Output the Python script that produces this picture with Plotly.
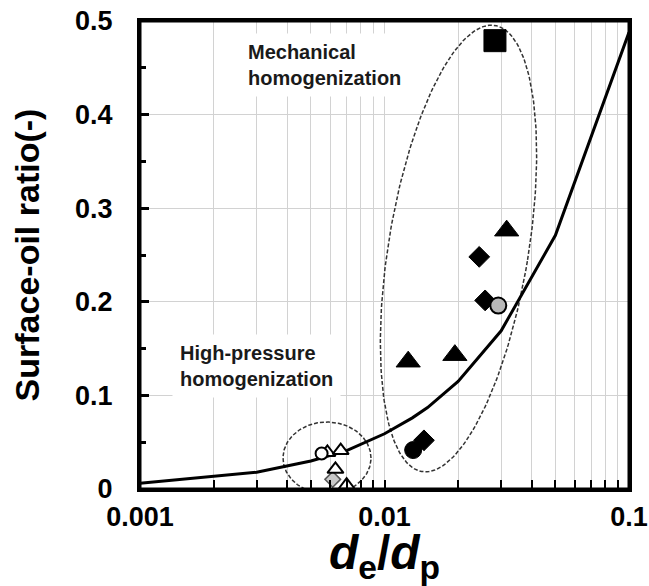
import numpy as np
import plotly.graph_objects as go

# ---------------- data ----------------
curve_x = [0.001, 0.003, 0.005, 0.007, 0.01, 0.013, 0.015, 0.02, 0.03, 0.05, 0.1]
curve_y = [0.006, 0.018, 0.030, 0.041, 0.059, 0.076, 0.087, 0.115, 0.169, 0.271, 0.488]

# mechanical homogenization
sq_x = [0.0283]
sq_y = [0.479]
tri_x = [0.0316, 0.0125, 0.0194]
tri_y = [0.276, 0.136, 0.143]
dia_x = [0.0244, 0.0258, 0.0145]
dia_y = [0.248, 0.2015, 0.052]
circ_x = [0.0131]
circ_y = [0.0416]
hcirc_x = [0.0292]
hcirc_y = [0.196]

# high-pressure homogenization
ocirc_x = [0.00553]
ocirc_y = [0.038]
otri_x = [0.00584, 0.00662, 0.0063, 0.0070]
otri_y = [0.039, 0.041, 0.021, 0.004]
hdia_x = [0.00614]
hdia_y = [0.0103]

x_tickvals = [0.001, 0.01, 0.1]
x_ticktext = ["0.001", "0.01", "0.1"]
y_tickvals = [0, 0.1, 0.2, 0.3, 0.4, 0.5]
y_ticktext = ["0", "0.1", "0.2", "0.3", "0.4", "0.5"]

# ---------------- layout geometry ----------------
W, H = 649, 586
ML, MR, MT, MB = 140, 20, 21, 97
PW, PH = W - ML - MR, H - MT - MB
XLOG0, XLOG1 = -3, -1
Y0, Y1 = 0, 0.5


def ellipse(cx, cy, a, b, tilt_deg, n=240):
    """Ellipse defined in plot-area pixels (u right, v up) -> data coords."""
    t = np.linspace(0, 2 * np.pi, n)
    th = np.radians(tilt_deg)
    u = cx + b * np.cos(t) * np.cos(th) + a * np.sin(t) * np.sin(th)
    v = cy - b * np.cos(t) * np.sin(th) + a * np.sin(t) * np.cos(th)
    x = 10 ** (XLOG0 + (XLOG1 - XLOG0) * u / PW)
    y = Y0 + (Y1 - Y0) * v / PH
    return x, y


fig = go.Figure()

# gray dashed ellipses
ex, ey = ellipse(318.5, 240.5, 226, 70, 9.3)
fig.add_trace(go.Scatter(x=ex, y=ey, mode="lines", hoverinfo="skip",
                         line=dict(color="#333333", width=1.5, dash="4px,2px")))
ex2, ey2 = ellipse(187, 31, 36, 44, 0)
fig.add_trace(go.Scatter(x=ex2, y=ey2, mode="lines", hoverinfo="skip",
                         line=dict(color="#333333", width=1.5, dash="4px,2px")))

# model curve
fig.add_trace(go.Scatter(x=curve_x, y=curve_y, mode="lines",
                         line=dict(color="black", width=3)))

blk = dict(color="black", width=1)
opn = dict(color="black", width=2)
fig.add_trace(go.Scatter(x=sq_x, y=sq_y, mode="markers",
                         marker=dict(symbol="square", size=22, color="black", line=blk)))
fig.add_trace(go.Scatter(x=tri_x, y=tri_y, mode="markers",
                         marker=dict(symbol="triangle-up", size=21, color="black", line=blk)))
fig.add_trace(go.Scatter(x=dia_x, y=dia_y, mode="markers",
                         marker=dict(symbol="diamond", size=16, color="black", line=blk)))
fig.add_trace(go.Scatter(x=circ_x, y=circ_y, mode="markers",
                         marker=dict(symbol="circle", size=17, color="black", line=blk)))
fig.add_trace(go.Scatter(x=hcirc_x, y=hcirc_y, mode="markers",
                         marker=dict(symbol="circle", size=16, color="#b8b8b8", line=opn)))

fig.add_trace(go.Scatter(x=hdia_x, y=hdia_y, mode="markers",
                         marker=dict(symbol="diamond", size=12, color="#c8c8c8", line=dict(color="#555555", width=1.5))))
fig.add_trace(go.Scatter(x=otri_x, y=otri_y, mode="markers",
                         marker=dict(symbol="triangle-up", size=14, color="white", line=opn)))
fig.add_trace(go.Scatter(x=ocirc_x, y=ocirc_y, mode="markers",
                         marker=dict(symbol="circle", size=12, color="white", line=opn)))

FONT = "Liberation Sans, Arial, sans-serif"
minor_x = [k * 10 ** d for d in (-3, -2) for k in range(2, 10)]

fig.update_layout(
    width=W, height=H,
    margin=dict(l=ML, r=MR, t=MT, b=MB, pad=0, autoexpand=False),
    paper_bgcolor="white", plot_bgcolor="white",
    showlegend=False,
    font=dict(family=FONT, color="black"),
    xaxis=dict(
        type="log", range=[XLOG0, XLOG1], automargin=False,
        tickvals=x_tickvals, ticktext=x_ticktext,
        ticks="inside", ticklen=9, tickwidth=2, tickcolor="black",
        tickfont=dict(size=27, family=FONT, weight="bold"),
        ticklabelstandoff=2, ticklabeloverflow="allow",
        showgrid=True, gridcolor="#d2d2d2", gridwidth=1,
        minor=dict(tickvals=minor_x, ticks="inside", ticklen=9, tickwidth=2,
                   tickcolor="black", showgrid=True, gridcolor="#d2d2d2", gridwidth=1),
        showline=True, linecolor="black", linewidth=3, mirror=True,
        zeroline=False,
        title=dict(text="<b><i>d</i><sub>e</sub>/<i>d</i><sub>p</sub></b>",
                   font=dict(size=48, family=FONT), standoff=0),
    ),
    yaxis=dict(
        range=[Y0, Y1], automargin=False,
        tickvals=y_tickvals, ticktext=y_ticktext,
        ticks="inside", ticklen=9, tickwidth=3, tickcolor="black",
        tickfont=dict(size=27, family=FONT, weight="bold"),
        ticklabelstandoff=19, ticklabeloverflow="allow",
        showgrid=True, gridcolor="#d2d2d2", gridwidth=1,
        minor=dict(dtick=0.05, ticks="inside", ticklen=6, tickwidth=3,
                   tickcolor="black", showgrid=False),
        showline=True, linecolor="black", linewidth=3, mirror=True,
        zeroline=False,
        title=dict(text="<b>Surface-oil ratio(-)</b>",
                   font=dict(size=34, family=FONT), standoff=26),
    ),
    shapes=[
        # plot frame
        dict(type="rect", xref="paper", yref="paper", x0=0, x1=1, y0=0, y1=1,
             line=dict(color="black", width=3), fillcolor="rgba(0,0,0,0)", layer="above"),
    ],
    annotations=[
        dict(text="<b>Mechanical<br>homogenization</b>", xref="paper", yref="paper",
             x=0.205, y=0.906, xanchor="left", yanchor="middle", align="left",
             showarrow=False, bgcolor="white", borderpad=7,
             font=dict(size=20, family=FONT, color="#1a1a1a")),
        dict(text="<b>High-pressure<br>homogenization</b>", xref="paper", yref="paper",
             x=0.065, y=0.262, xanchor="left", yanchor="middle", align="left",
             showarrow=False, bgcolor="white", borderpad=7,
             font=dict(size=20, family=FONT, color="#1a1a1a")),
    ],
)

# remove the default 8px page margin so the figure fills the window exactly
fig.write_html("out.html",
               config={"displayModeBar": False},
               post_script="document.body.style.margin='0';document.body.style.overflow='hidden';")
